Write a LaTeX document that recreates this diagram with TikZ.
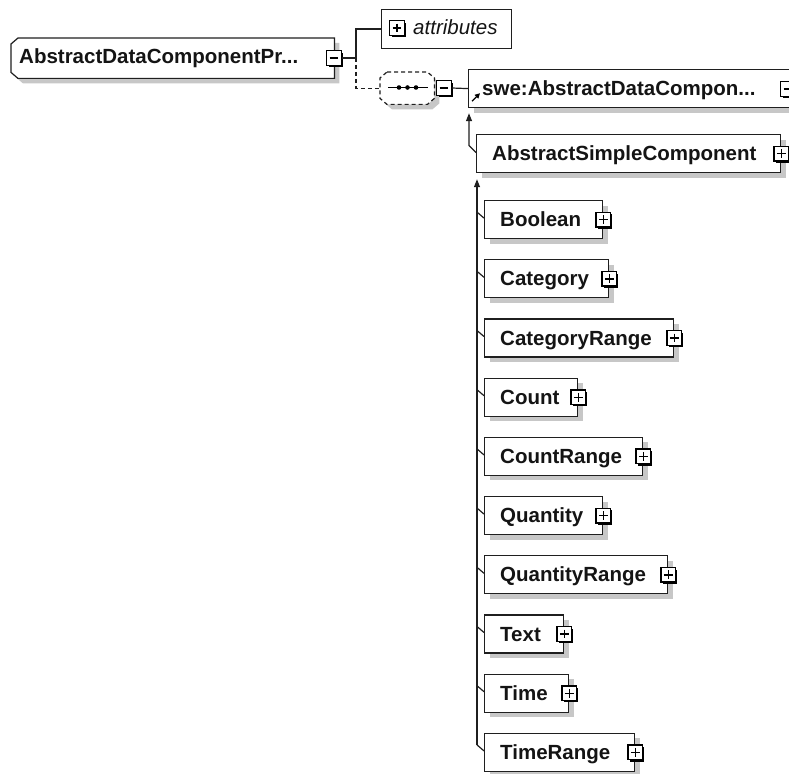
\documentclass[tikz,border=0pt]{standalone}
\usepackage{fontspec}
\setmainfont{Liberation Sans}
\usetikzlibrary{shadows,arrows.meta}
\tikzset{
  ln/.style={line width=1.2pt, draw=black!88},
  shad/.style={drop shadow={shadow xshift=5pt, shadow yshift=-5pt, fill=black!22, opacity=1}},
  elembox/.style={ln, rectangle, fill=white, anchor=north west, minimum height=38pt, inner sep=0pt, shad},
  lbl/.style={font=\fontsize{20.5}{24}\selectfont\bfseries, text=black!92, inner sep=0pt, anchor=base west},
  pmbox/.style={line width=1.4pt, draw=black, rectangle, fill=white, minimum size=14.5pt, inner sep=0pt,
     drop shadow={shadow xshift=2pt, shadow yshift=-2pt, fill=black, opacity=1}},
  plus/.style={pmbox, path picture={
     \draw[line width=1.4pt] ([xshift=2.8pt]path picture bounding box.west) -- ([xshift=-2.8pt]path picture bounding box.east);
     \draw[line width=1.4pt] ([yshift=-2.8pt]path picture bounding box.north) -- ([yshift=2.8pt]path picture bounding box.south);}},
  minus/.style={pmbox, path picture={
     \draw[line width=1.4pt] ([xshift=2.8pt]path picture bounding box.west) -- ([xshift=-2.8pt]path picture bounding box.east);}},
  conn/.style={ln},
  dashln/.style={dash pattern=on 4pt off 3pt},
  tip/.style={-{Triangle[width=6pt,length=8pt]}},
  holder/.style={rectangle, inner sep=0pt, anchor=north west},
}
\newcommand\childel[4]{% name, top y, right x, text
  \node[elembox, minimum width={(#3-484)*1pt}] (#1) at (484,#2) {};
  \node[lbl] (#1-t) at ([xshift=16pt,yshift=-7pt]#1.west) {#4};
  \node[plus] (#1-x) at (#1.east) {};
  \draw[conn] ([yshift=1.5pt]#1.west) -- ++(-7,-6);
}
% chamfered outline of a node: #1 node, #2 corner x, #3 corner y
\newcommand\leftchamfer[3]{([xshift=#2]#1.north west) -- (#1.north east) -- (#1.south east) -- ([xshift=#2]#1.south west) -- ([yshift=#3]#1.south west) -- ([yshift=-#3]#1.north west) -- cycle}
\newcommand\allchamfer[3]{([xshift=#2]#1.north west) -- ([xshift=-#2]#1.north east) -- ([yshift=-#3]#1.north east) -- ([yshift=#3]#1.south east) -- ([xshift=-#2]#1.south east) -- ([xshift=#2]#1.south west) -- ([yshift=#3]#1.south west) -- ([yshift=-#3]#1.north west) -- cycle}
\begin{document}
\begin{tikzpicture}[x=1pt,y=-1pt]
\useasboundingbox (0,0) rectangle (789,773);
\clip (0,0) rectangle (789,773);

% main element
\node[holder, minimum width=323pt, minimum height=40pt] (main) at (11,38) {};
\fill[black!22, transform canvas={xshift=5pt,yshift=-5pt}] \leftchamfer{main}{7pt}{6pt};
\draw[ln, fill=white] \leftchamfer{main}{7pt}{6pt};
\node[lbl] (main-t) at (19,64) {AbstractDataComponentPr...};
\node[minus] (main-x) at (334,58) {};

% attributes
\node[ln, holder, minimum width=130pt, minimum height=39pt] (attr) at (381,9) {};
\node[plus] (attr-x) at (397,28) {};
\node[font=\fontsize{20.5}{24}\selectfont\itshape, text=black!92, inner sep=0pt, anchor=base west] (attr-t) at (413,35) {attributes};

\coordinate (fork) at (356,58);
\draw[conn] (main-x.east) -- (fork) |- (attr.west);

% sequence compositor
\node[holder, minimum width=54pt, minimum height=32pt] (comp) at (380,72) {};
\fill[black!22, transform canvas={xshift=5pt,yshift=-5pt}] \allchamfer{comp}{7pt}{6pt};
\draw[ln, dashln, fill=white] \allchamfer{comp}{7pt}{6pt};
\draw[line width=1.2pt] (388,87.5) -- (428,87.5);
\foreach \dx in {399,407.5,416} \fill (\dx,87.5) circle (2.3pt);
\node[minus] (comp-x) at (444,88) {};
\draw[conn, dashln] (fork) |- (comp.west);

% swe:AbstractDataComponent
\node[elembox, minimum width=324pt] (swe) at (468,69) {};
\node[lbl] (swe-t) at ([xshift=14pt,yshift=-7pt]swe.west) {swe:AbstractDataCompon...};
\node[minus] (swe-x) at (788,89) {};
\draw[line width=1.2pt, -{Triangle[width=5pt,length=5pt]}] ([xshift=4pt,yshift=7pt]swe.south west) -- ++(8,-8);
\draw[conn] (comp-x.east) -- (swe.west);

% AbstractSimpleComponent
\node[elembox, minimum width=304pt] (asc) at (476,134) {};
\node[lbl] (asc-t) at ([xshift=16pt,yshift=-7pt]asc.west) {AbstractSimpleComponent};
\node[plus] (asc-x) at (asc.east) {};
\draw[conn, tip] ([yshift=1pt]asc.west) -- ++(-7,-7) -- ([xshift=1pt,yshift=-5pt]swe.south west);

% children
\childel{bool}{200}{602}{Boolean}
\childel{cat}{259.2}{608}{Category}
\childel{catr}{318.4}{673}{CategoryRange}
\childel{cnt}{377.6}{577}{Count}
\childel{cntr}{436.8}{642}{CountRange}
\childel{qty}{496}{602}{Quantity}
\childel{qtyr}{555.2}{667}{QuantityRange}
\childel{txt}{614.4}{563}{Text}
\childel{tim}{673.6}{568}{Time}
\childel{timr}{732.8}{634}{TimeRange}

\coordinate (spinetop) at ([xshift=1pt,yshift=-6pt]asc.south west);
\coordinate (spinebot) at ([xshift=-7pt,yshift=7.5pt]timr.west);
\draw[conn, tip] (spinebot) -- (spinetop);
\end{tikzpicture}
\end{document}
